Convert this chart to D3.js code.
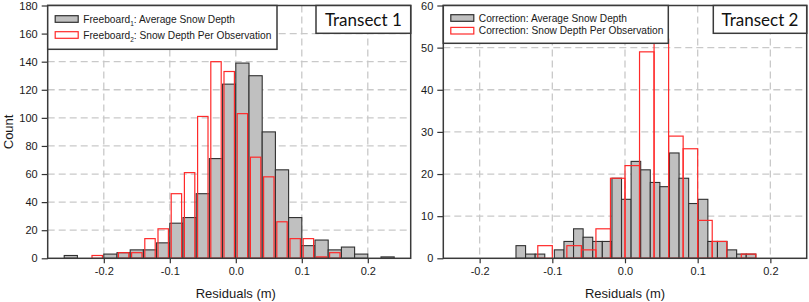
<!DOCTYPE html>
<html>
<head>
<meta charset="utf-8">
<script src="https://cdn.jsdelivr.net/npm/d3@7"></script>
<style>
  body { margin: 0; background: #fff; }
  svg { display: block; font-family: "Liberation Sans", Arial, sans-serif; }
</style>
</head>
<body>
<div id="chart"></div>
<script>
// Transect 1 : both histograms share 0.02 bins (left edges)
const t1BinStarts = [-0.26, -0.24, -0.22, -0.20, -0.18, -0.16, -0.14, -0.12, -0.10, -0.08, -0.06, -0.04, -0.02,
  0.00, 0.02, 0.04, 0.06, 0.08, 0.10, 0.12, 0.14, 0.16, 0.18, 0.20, 0.22];
const t1Average = [2, 0, 0, 3, 4, 6, 6, 11, 25, 29, 46, 71, 124, 139, 130, 90, 63, 29, 9, 13, 6, 8, 3, 0, 1];
const t1PerObs = [0, 0, 2, 0, 4, 4, 14, 21, 46, 61, 101, 140, 133, 103, 72, 58, 26, 14, 14, 1, 4, 0, 0, 0, 0];
const t1BinWidth = 0.02;

// Transect 2 : average-depth histogram uses narrower bins
const t2AvgBinStarts = [-0.1500, -0.1368, -0.1236, -0.1104, -0.0972, -0.0840, -0.0708, -0.0576, -0.0444, -0.0312,
  -0.0180, -0.0048, 0.0084, 0.0216, 0.0348, 0.0480, 0.0612, 0.0744, 0.0876, 0.1008, 0.1140, 0.1272, 0.1404, 0.1536, 0.1668];
const t2Average = [3, 1, 1, 0, 2, 4, 7, 5, 4, 4, 19, 14, 23, 21, 18, 17, 25, 19, 13, 14, 4, 4, 2, 1, 1];
const t2AvgBinWidth = 0.0132;
const t2ObsBinStarts = [-0.12, -0.10, -0.08, -0.06, -0.04, -0.02, 0.00, 0.02, 0.04, 0.06, 0.08, 0.10, 0.12, 0.14, 0.16];
const t2PerObs = [3, 0, 3, 2, 7, 19, 22, 49, 52, 29, 26, 9, 4, 0, 1];
const t2ObsBinWidth = 0.02;

const xTicks = [-0.2, -0.1, 0.0, 0.1, 0.2];
const t1YTicks = [0, 20, 40, 60, 80, 100, 120, 140, 160, 180];
const t2YTicks = [0, 10, 20, 30, 40, 50, 60];

const width = 809, height = 302;
const [mt, mb] = [5.5, 258.3];

const svg = d3.select('#chart')
  .append('svg')
  .attr('width', width)
  .attr('height', height)
  .attr('viewBox', [0, 0, width, height]);

function panel(opt) {
  const x = d3.scaleLinear(opt.xDomain, [opt.left, opt.right]);
  const y = d3.scaleLinear([0, opt.yMax], [mb, mt]);
  const g = svg.append('g');

  // dashed grid
  g.append('g')
    .selectAll('line.h')
    .data(opt.yTicks.filter(d => d > 0 && d < opt.yMax))
    .join('line')
    .attr('x1', opt.left).attr('x2', opt.right)
    .attr('y1', d => y(d)).attr('y2', d => y(d))
    .attr('stroke', '#c9c9c9').attr('stroke-width', 1.3)
    .attr('stroke-dasharray', '7,4');
  g.append('g')
    .selectAll('line.v')
    .data(xTicks)
    .join('line')
    .attr('x1', d => x(d)).attr('x2', d => x(d))
    .attr('y1', mt).attr('y2', mb)
    .attr('stroke', '#c9c9c9').attr('stroke-width', 1.3)
    .attr('stroke-dasharray', '7,4');

  // gray bars (average snow depth)
  g.append('g')
    .selectAll('rect')
    .data(opt.avgStarts.map((s, i) => ({ s, v: opt.avg[i] })).filter(d => d.v > 0))
    .join('rect')
    .attr('x', d => x(d.s))
    .attr('width', d => x(d.s + opt.avgWidth) - x(d.s))
    .attr('y', d => y(d.v))
    .attr('height', d => y(0) - y(d.v))
    .attr('fill', '#c0c0c0')
    .attr('stroke', '#303030')
    .attr('stroke-width', 1.1);

  // red outlines (per observation)
  const inset = opt.inset;
  g.append('g')
    .selectAll('rect')
    .data(opt.obsStarts.map((s, i) => ({ s, v: opt.obs[i] })).filter(d => d.v > 0))
    .join('rect')
    .attr('x', d => x(d.s) + inset)
    .attr('width', d => x(d.s + opt.obsWidth) - x(d.s) - 2 * inset)
    .attr('y', d => y(d.v))
    .attr('height', d => y(0) - y(d.v))
    .attr('fill', 'none')
    .attr('stroke', '#ff2a2a')
    .attr('stroke-width', 1.2);

  // axes
  const xAxis = g.append('g')
    .attr('transform', `translate(0,${mb})`)
    .call(d3.axisBottom(x).tickValues(xTicks).tickFormat(d => d.toFixed(1)).tickSize(5).tickPadding(4));
  const yAxis = g.append('g')
    .attr('transform', `translate(${opt.left},0)`)
    .call(d3.axisLeft(y).tickValues(opt.yTicks).tickSize(6).tickPadding(4));
  [xAxis, yAxis].forEach(a => {
    a.select('.domain').remove();
    a.selectAll('.tick line').attr('stroke', '#333').attr('stroke-width', 1.2);
    a.selectAll('.tick text')
      .attr('fill', '#1a1a1a')
      .style('font-size', '11px')
      .style('font-family', '"Liberation Sans", Arial, sans-serif');
  });

  // frame
  g.append('rect')
    .attr('x', opt.left).attr('y', mt)
    .attr('width', opt.right - opt.left).attr('height', mb - mt)
    .attr('fill', 'none')
    .attr('stroke', '#3a3a3a')
    .attr('stroke-width', 1.5);

  // legend box
  const lg = g.append('g');
  lg.append('rect')
    .attr('x', opt.left).attr('y', mt)
    .attr('width', opt.legendRight - opt.left).attr('height', opt.legendBottom - mt)
    .attr('fill', '#fff')
    .attr('stroke', '#3a3a3a')
    .attr('stroke-width', 1.5);
  opt.legend.forEach((item, i) => {
    const cy = opt.legendRows[i];
    lg.append('rect')
      .attr('x', opt.left + 7.5).attr('y', cy - 3.3)
      .attr('width', 23).attr('height', 6.6)
      .attr('fill', i === 0 ? '#c0c0c0' : '#fff')
      .attr('stroke', i === 0 ? '#303030' : '#ff2a2a')
      .attr('stroke-width', 1.2);
    const t = lg.append('text')
      .attr('x', opt.left + 35.5)
      .attr('y', cy + 3.6)
      .attr('fill', '#1a1a1a')
      .style('font-size', '10.2px');
    let back = 0;
    item.forEach(part => {
      if (part.sub) {
        t.append('tspan').attr('dy', 3).style('font-size', '6.5px').text(part.sub);
        back = -3;
      } else {
        t.append('tspan').attr('dy', back).text(part.text);
        back = 0;
      }
    });
  });

  // transect label
  g.append('rect')
    .attr('x', opt.tagLeft).attr('y', mt)
    .attr('width', opt.right - opt.tagLeft).attr('height', 33.3 - mt)
    .attr('fill', '#fff')
    .attr('stroke', '#3a3a3a')
    .attr('stroke-width', 1.5);
  g.append('text')
    .attr('x', (opt.tagLeft + opt.right) / 2)
    .attr('y', 25.5)
    .attr('text-anchor', 'middle')
    .attr('fill', '#111')
    .style('font-family', 'Lato, "Open Sans", sans-serif')
    .style('font-size', '17px')
    .text(opt.tag);

  // x title
  g.append('text')
    .attr('x', x(0))
    .attr('y', 298)
    .attr('text-anchor', 'middle')
    .attr('fill', '#1a1a1a')
    .style('font-size', '13px')
    .text('Residuals (m)');
}

panel({
  left: 47.7, right: 410.7, xDomain: [-0.285, 0.265], yMax: 180, yTicks: t1YTicks,
  avgStarts: t1BinStarts, avg: t1Average, avgWidth: t1BinWidth,
  obsStarts: t1BinStarts, obs: t1PerObs, obsWidth: t1BinWidth, inset: 1.4,
  legendRight: 277, legendBottom: 49.3, legendRows: [19, 35],
  legend: [
    [{ text: 'Freeboard' }, { sub: '1' }, { text: ': Average Snow Depth' }],
    [{ text: 'Freeboard' }, { sub: '2' }, { text: ': Snow Depth Per Observation' }]
  ],
  tagLeft: 316, tag: 'Transect 1'
});

panel({
  left: 443.3, right: 806.7, xDomain: [-0.25, 0.25], yMax: 60, yTicks: t2YTicks,
  avgStarts: t2AvgBinStarts, avg: t2Average, avgWidth: t2AvgBinWidth,
  obsStarts: t2ObsBinStarts, obs: t2PerObs, obsWidth: t2ObsBinWidth, inset: 0,
  legendRight: 668.3, legendBottom: 43.3, legendRows: [18, 30.7],
  legend: [
    [{ text: 'Correction: Average Snow Depth' }],
    [{ text: 'Correction: Snow Depth Per Observation' }]
  ],
  tagLeft: 713.3, tag: 'Transect 2'
});

// y title (left panel only)
svg.append('text')
  .attr('transform', `translate(12.5,${(mt + mb) / 2}) rotate(-90)`)
  .attr('text-anchor', 'middle')
  .attr('fill', '#1a1a1a')
  .style('font-size', '13px')
  .text('Count');
</script>
</body>
</html>
